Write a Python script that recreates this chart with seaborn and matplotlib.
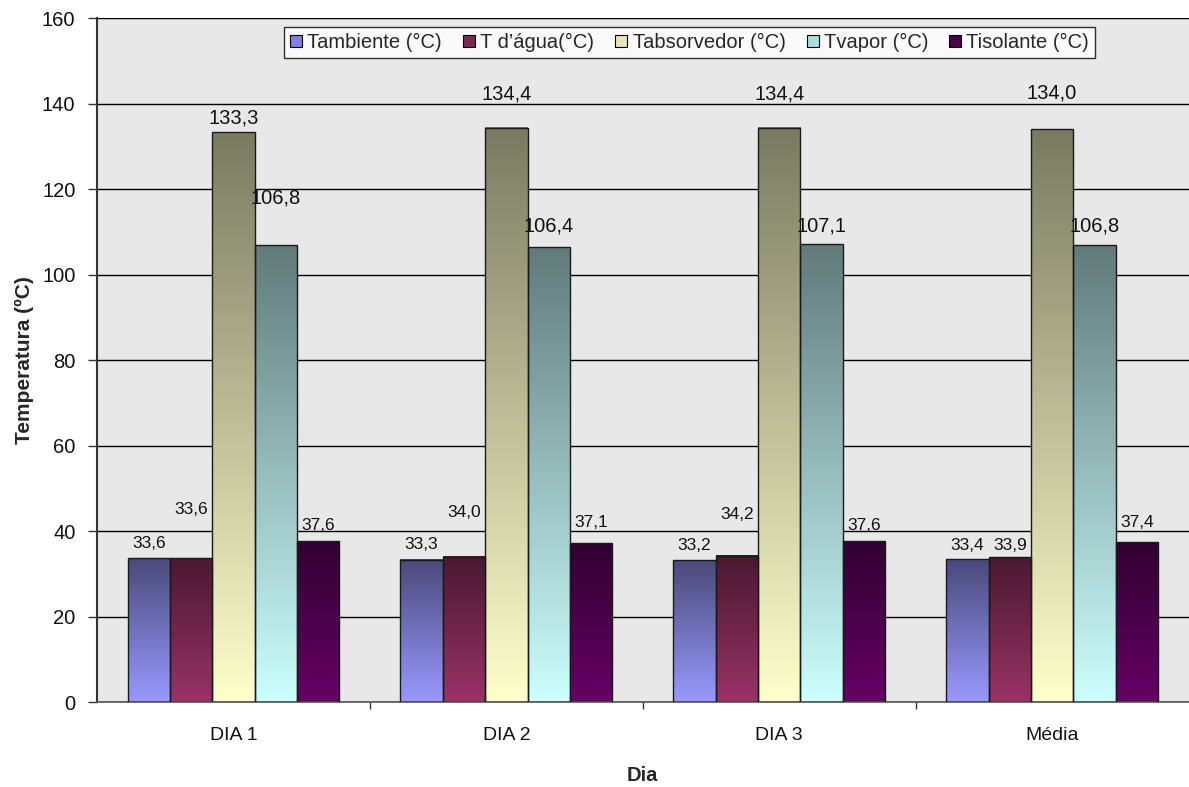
import numpy as np
import pandas as pd
import matplotlib
matplotlib.use("Agg")
import matplotlib.pyplot as plt
from matplotlib.patches import Patch
from matplotlib.colors import to_rgb
import seaborn as sns

# Temperatures per day (°C)
dias = ["DIA 1", "DIA 2", "DIA 3", "Média"]
series = ["Tambiente (°C)", "T d\u2019água(°C)", "Tabsorvedor (°C)", "Tvapor (°C)", "Tisolante (°C)"]
tambiente = [33.6, 33.3, 33.2, 33.4]
tagua = [33.6, 34.0, 34.2, 33.9]
tabsorvedor = [133.3, 134.4, 134.4, 134.0]
tvapor = [106.8, 106.4, 107.1, 106.8]
tisolante = [37.6, 37.1, 37.6, 37.4]
y_ticks = [0, 20, 40, 60, 80, 100, 120, 140, 160]

# Base (bottom) colour of each series; bars fade to a darker shade at the top
base_colors = ["#9999ff", "#993366", "#ffffcc", "#ccffff", "#660066"]
legend_colors = ["#8080e0", "#7a2a55", "#e8e6b8", "#a8dede", "#4a004a"]
# Vertical distance (pixels) of each value label above its bar
label_dy = [[15, 15, 15, 14],
            [49, 44, 41, 12],
            [14, 34, 34, 36],
            [47, 21, 18, 19],
            [16, 21, 16, 20]]

values = [tambiente, tagua, tabsorvedor, tvapor, tisolante]
df = pd.DataFrame({
    "Dia": [d for _ in series for d in dias],
    "Serie": [s for s in series for _ in dias],
    "Temp": [v for vals in values for v in vals],
})

sns.set_theme(style="white")
plt.rcParams["font.family"] = ["Liberation Sans", "DejaVu Sans"]

fig = plt.figure(figsize=(11.89, 7.87), dpi=100)
ax = fig.add_axes([0.0816, 0.108, 0.918, 0.869])
ax.set_facecolor("#e8e8e8")

sns.barplot(data=df, x="Dia", y="Temp", hue="Serie", order=dias, hue_order=series,
            width=0.776, gap=0, ax=ax, legend=False, errorbar=None, saturation=1)

# Replace flat fills with vertical gradients
for k, cont in enumerate(ax.containers):
    c0 = np.array(to_rgb(base_colors[k]))
    c1 = c0 * 0.48
    for bar in cont:
        x, w, h = bar.get_x(), bar.get_width(), bar.get_height()
        t = np.linspace(0, 1, 256)[:, None]
        grad = (1 - t) * c0 + t * c1
        img = grad[:, None, :]
        ax.imshow(img, extent=[x, x + w, 0, h], origin="lower", aspect="auto",
                  zorder=2, interpolation="bilinear")
        bar.set_facecolor("none")
        bar.set_edgecolor("#1a1a1a")
        bar.set_linewidth(1.0)
        bar.set_zorder(3)

# Value labels
for k, cont in enumerate(ax.containers):
    big = max(values[k]) > 100
    for j, bar in enumerate(cont):
        v = values[k][j]
        ax.annotate(f"{v:.1f}".replace(".", ","),
                    xy=(bar.get_x() + bar.get_width() / 2, v),
                    xytext=(0, label_dy[k][j]), textcoords="offset pixels",
                    ha="center", va="center", fontsize=14.5 if big else 12.5,
                    color="#111111", zorder=5)

ax.set_xlim(-0.5, 3.5)
ax.set_ylim(0, 160)
ax.set_yticks(y_ticks)
ax.yaxis.grid(True, color="black", linewidth=1.0)
ax.set_axisbelow(True)
ax.tick_params(axis="y", labelsize=14.5, length=6.5, width=1, color="#333333",
               left=True, pad=9, labelcolor="#111111")
ax.tick_params(axis="x", which="major", labelsize=14, length=0, pad=18,
               labelcolor="#111111")
ax.set_xticks([0.5, 1.5, 2.5], minor=True)
ax.tick_params(axis="x", which="minor", length=5, width=1, color="#333333", bottom=True)

for side in ["top", "right"]:
    ax.spines[side].set_visible(False)
ax.spines["left"].set_color("#333333")
ax.spines["left"].set_linewidth(1.5)
ax.spines["bottom"].set_color("#555555")
ax.spines["bottom"].set_linewidth(1.2)

ax.set_ylabel("Temperatura (ºC)", fontsize=15, fontweight="bold", labelpad=6)
ax.set_xlabel("Dia", fontsize=14.5, fontweight="bold", labelpad=16)

handles = [Patch(facecolor=c, edgecolor="black", linewidth=0.8) for c in legend_colors]
leg = ax.legend(handles, series, loc="upper center", bbox_to_anchor=(0.543, 0.987),
                ncol=5, frameon=True, fancybox=False, fontsize=14.5,
                handlelength=0.6, handleheight=0.6, handletextpad=0.25,
                columnspacing=1.05, borderpad=0.3, borderaxespad=0)
leg.get_frame().set_edgecolor("black")
leg.get_frame().set_linewidth(1.0)
leg.get_frame().set_facecolor("white")
leg.set_zorder(10)

fig.savefig("out.png", dpi=100, facecolor="white")
